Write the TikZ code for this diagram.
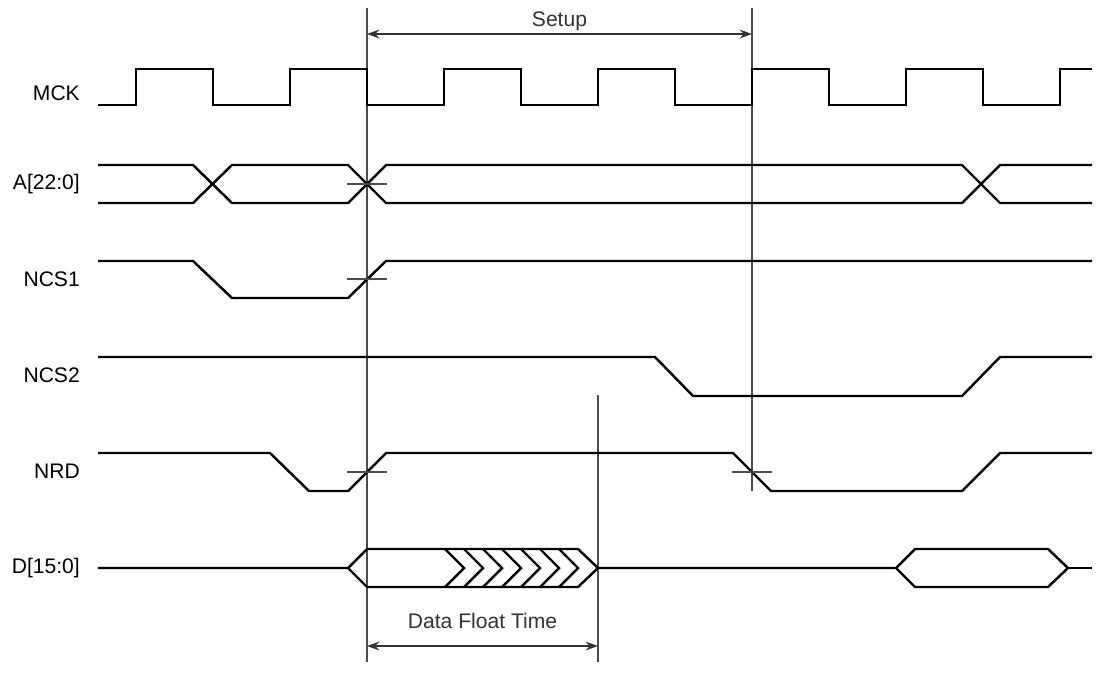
\documentclass[tikz,border=0pt]{standalone}
\usepackage{fontspec}
\setmainfont{Liberation Sans}
\usetikzlibrary{arrows.meta}

\begin{document}
\begin{tikzpicture}[x=0.02cm,y=-0.02cm,
 sig/.style={line width=1.4pt,black},
 mk/.style={line width=.7pt,black!70},
 dim/.style={{Stealth[length=7pt,width=5pt]}-{Stealth[length=7pt,width=5pt]},line width=.6pt,black!80},
 lbl/.style={anchor=east,font=\fontsize{12}{14}\selectfont},
 txt/.style={font=\fontsize{12}{14}\selectfont}]
\useasboundingbox (0,0) rectangle (1102,684);
% signal names
\node[lbl] (mck) at (86,93) {MCK};
\node[lbl] (addr) at (86,184) {A[22:0]};
\node[lbl] (ncsa) at (86,279) {NCS1};
\node[lbl] (ncsb) at (86,375) {NCS2};
\node[lbl] (nrd) at (86,471) {NRD};
\node[lbl] (data) at (86,568) {D[15:0]};
% markers
\coordinate (s1) at (367,8);
\coordinate (s2) at (752,8);
\coordinate (e1) at (367,662);
\coordinate (e2) at (752,491);
\coordinate (f1) at (598,395);
\coordinate (f2) at (598,662);
\draw[mk] (s1)--(e1);\draw[mk] (s2)--(e2);\draw[mk] (f1)--(f2);
% MCK
\draw[sig] (98,105) \foreach \t in {136,290,...,906} {-- (\t,105) -- (\t,69) -- (\t+77,69) -- (\t+77,105)}
 -- (1060,105) -- (1060,69) -- (1092,69);
% A[22:0]
\draw[sig] (98,165) -- (193,165) -- (232,203) -- (348,203) -- (386,165) -- (962,165) -- (1000,203) -- (1092,203);
\draw[sig] (98,203) -- (193,203) -- (232,165) -- (348,165) -- (386,203) -- (962,203) -- (1000,165) -- (1092,165);
% NCS1, NCS2, NRD
\draw[sig] (98,261) -- (193,261) -- (232,298) -- (348,298) -- (386,261) -- (1092,261);
\draw[sig] (98,357) -- (655,357) -- (693,396) -- (962,396) -- (1000,357) -- (1092,357);
\draw[sig] (98,453) -- (270,453) -- (309,491) -- (348,491) -- (386,453) -- (733,453) -- (771,491) -- (962,491) -- (1000,453) -- (1092,453);
% D[15:0]
\draw[sig] (98,568) -- (348,568) -- (367,549) -- (578,549) -- (598,568) -- (578,587) -- (367,587) -- (348,568);
\foreach \c in {445,464,...,559}
 \draw[sig] (\c,549) -- (\c+19,568) -- (\c,587);
\draw[sig] (598,568) -- (896,568) -- (915,549) -- (1048,549) -- (1068,568) -- (1048,587) -- (915,587) -- (896,568);
\draw[sig] (1068,568) -- (1092,568);
% ticks
\foreach \p in {(367,184),(367,279),(367,472),(752,472)}
 \draw[mk] \p ++(-20,0) -- ++(40,0);
% dimensions
\coordinate (u1) at (367,34);
\coordinate (u2) at (752,34);
\draw[dim] (u1) -- node[txt,above=-2pt] (setup) {Setup} (u2);
\coordinate (w1) at (367,646);
\coordinate (w2) at (598,646);
\draw[dim] (w1) -- node[txt,above=6pt] (dft) {Data Float Time} (w2);
\end{tikzpicture}
\end{document}
